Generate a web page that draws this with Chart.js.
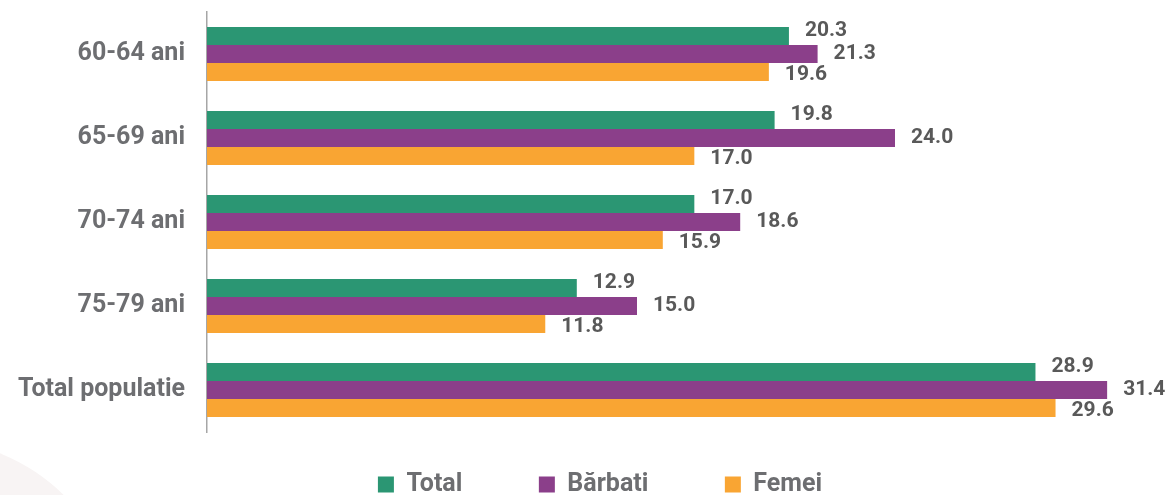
<!DOCTYPE html>
<html>
<head>
<meta charset="utf-8">
<script src="https://cdn.jsdelivr.net/npm/chart.js@4/dist/chart.umd.min.js"></script>
<style>
  html, body { margin: 0; padding: 0; background: #fff; overflow: hidden; }
  #wrap { position: relative; width: 1171px; height: 495px; overflow: hidden; }
  /* faint decorative shape, bottom-left corner */
  #deco { position: absolute; left: -260px; top: 440px; width: 380px; height: 380px;
          border-radius: 50%; background: #f8f4f4; }
  canvas { position: absolute; left: 0; top: 0; }
</style>
</head>
<body>
<div id="wrap">
  <div id="deco"></div>
  <canvas id="chart" width="1171" height="495"></canvas>
</div>
<script>
// data
const categories = ['60-64 ani', '65-69 ani', '70-74 ani', '75-79 ani', 'Total populatie'];
const seriesNames = ['Total', 'Bărbati', 'Femei'];
const totalValues = [20.3, 19.8, 17.0, 12.9, 28.9];
const barbatiValues = [21.3, 24.0, 18.6, 15.0, 31.4];
const femeiValues = [19.6, 17.0, 15.9, 11.8, 29.6];

const colors = ['#2b9673', '#8b3f8a', '#f9a533'];

// value labels to the right of each bar
const valueLabels = {
  id: 'valueLabels',
  afterDatasetsDraw(chart) {
    const ctx = chart.ctx;
    const nudge = [-5, 0, 3];
    ctx.save();
    ctx.font = 'bold 21px Roboto';
    ctx.fillStyle = '#595959';
    ctx.textAlign = 'left';
    ctx.textBaseline = 'middle';
    chart.data.datasets.forEach((ds, i) => {
      chart.getDatasetMeta(i).data.forEach((bar, j) => {
        ctx.fillText(ds.data[j].toFixed(1), bar.x + 16, bar.y + nudge[i]);
      });
    });
    ctx.restore();
  }
};

// legend sits a bit right of centre and lower than the layout puts it
const legendShift = {
  id: 'legendShift',
  afterLayout(chart) {
    const lg = chart.legend;
    lg.left += 18;
    lg.right += 18;
    lg.top += 12;
    lg.bottom += 12;
  }
};

new Chart(document.getElementById('chart'), {
  type: 'bar',
  data: {
    labels: categories,
    datasets: [
      { label: seriesNames[0], data: totalValues, backgroundColor: colors[0] },
      { label: seriesNames[1], data: barbatiValues, backgroundColor: colors[1] },
      { label: seriesNames[2], data: femeiValues, backgroundColor: colors[2] }
    ]
  },
  options: {
    indexAxis: 'y',
    responsive: false,
    animation: false,
    devicePixelRatio: 1,
    categoryPercentage: 0.643,
    barPercentage: 1.0,
    layout: { padding: { left: 11, right: 18, top: 12, bottom: 0 } },
    scales: {
      x: {
        min: 0,
        max: 33,
        grid: { display: false },
        border: { display: false },
        ticks: { display: false },
        afterFit: s => { s.height = 28; }
      },
      y: {
        grid: { display: false, drawTicks: false },
        border: { display: true, color: '#a6a6a6', width: 1.5 },
        ticks: {
          color: '#6d6e71',
          padding: 22,
          font: { family: 'Roboto', size: 25, weight: 'bold' }
        },
        afterFit: s => {
          s.width = 196;
          s.paddingTop = 0;
          s.paddingBottom = 0;
        }
      }
    },
    plugins: {
      tooltip: { enabled: false },
      legend: {
        position: 'bottom',
        labels: {
          boxWidth: 16,
          boxHeight: 16,
          padding: 0,
          color: '#6d6e71',
          font: { family: 'Roboto', size: 25, weight: 'bold' },
          generateLabels(chart) {
            const items = Chart.defaults.plugins.legend.labels.generateLabels(chart);
            items.forEach((it, i) => {
              it.lineWidth = 0;
              if (i < items.length - 1) it.text = it.text + '\u2003\u2003\u2003';
            });
            return items;
          }
        }
      }
    }
  },
  plugins: [valueLabels, legendShift]
});
</script>
</body>
</html>
